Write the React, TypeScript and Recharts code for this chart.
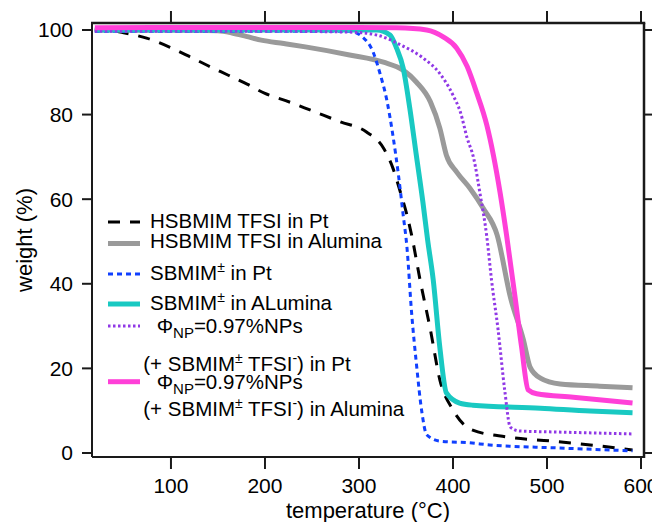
import { LineChart, Line, XAxis, YAxis, Label } from 'recharts';

// TGA curves: temperature (°C) vs weight (%)
const hsPtTemp = [19, 35, 51, 75, 99, 119, 139, 161, 181, 200, 222, 242, 280, 308, 326, 336, 344, 351, 356, 365, 376, 386, 400, 415, 421, 457, 506, 546, 591];
const hsPtWeight = [100, 99.9, 99.3, 98, 95.9, 93.8, 91.6, 89.3, 87.2, 85, 83.3, 81.6, 78.3, 75.9, 72.1, 67.4, 61.7, 56.3, 51.5, 40.9, 29.1, 17.3, 10.2, 6.1, 5.4, 3.8, 2.8, 1.9, 0.7];

const hsAlTemp = [19, 100, 150, 165, 180, 196, 220, 243, 290, 326, 347, 361, 376, 386, 393, 404, 418, 432, 447, 461, 475, 482, 493, 514, 556, 591];
const hsAlWeight = [100, 100, 99.8, 99.3, 98.5, 97.6, 96.8, 96, 94.1, 92.4, 90.5, 87.7, 83, 76.8, 70.4, 66.4, 62.6, 57.9, 51.5, 36.9, 26.7, 20.3, 17.7, 16.3, 15.8, 15.4];

const snPtTemp = [19, 100, 200, 290, 304, 315, 322, 330, 336, 342, 347, 351, 356, 361, 367, 372, 386, 418, 439, 510, 591];
const snPtWeight = [99.7, 99.7, 99.7, 99.7, 98.3, 94.8, 90, 83, 75.2, 65.7, 56.3, 48.7, 33.1, 21.3, 9.5, 4.3, 2.8, 2.4, 1.9, 1.2, 0.5];

const snAlTemp = [19, 100, 200, 300, 319, 333, 340, 347, 354, 361, 368, 373, 379, 386, 393, 407, 421, 493, 546, 591];
const snAlWeight = [100, 100, 100, 100, 100, 98.8, 95.7, 91, 81.6, 70.4, 59.3, 50.4, 40.9, 25, 14.2, 11.8, 11.3, 10.6, 9.9, 9.5];

const npPtTemp = [19, 100, 200, 290, 319, 344, 368, 386, 400, 408, 415, 422, 429, 436, 441, 448, 455, 461, 471, 510, 591];
const npPtWeight = [99.7, 99.7, 99.7, 99.5, 98.8, 96.5, 93.4, 89.7, 84.6, 80.5, 74.5, 69.7, 61, 51.1, 40.9, 29.1, 14.9, 6.1, 5.2, 4.96, 4.5];

const npAlTemp = [19, 100, 200, 300, 340, 372, 390, 404, 415, 425, 436, 443, 450, 457, 466, 473, 480, 489, 528, 591];
const npAlWeight = [100.5, 100.6, 100.6, 100.6, 100.5, 100, 98.3, 95.7, 91.4, 85.3, 77.5, 70.4, 61.7, 51.5, 36.9, 25, 14.9, 14, 13.2, 11.8];

const xTicks = [100, 200, 300, 400, 500, 600];
const yTicks = [0, 20, 40, 60, 80, 100];

const toPoints = (t: number[], w: number[]) => t.map((temp, i) => ({ temp, weight: w[i] }));

const FONT = "'Liberation Sans', Arial, sans-serif";
const AXIS = '#1a1a1a';
const X_DOMAIN: [number, number] = [16, 603.2];
const Y_DOMAIN: [number, number] = [-0.95, 101.65];
const W = 652;
const H = 514;
const MARGIN = { top: 15, right: 16, bottom: 65, left: 84 };

const series = [
  { id: 'hsPt', data: toPoints(hsPtTemp, hsPtWeight), color: '#000000', width: 3, dash: '12 10' },
  { id: 'hsAl', data: toPoints(hsAlTemp, hsAlWeight), color: '#9a9a9a', width: 5, dash: undefined },
  { id: 'snPt', data: toPoints(snPtTemp, snPtWeight), color: '#1040ff', width: 3, dash: '5 4' },
  { id: 'snAl', data: toPoints(snAlTemp, snAlWeight), color: '#19c9c2', width: 5, dash: undefined },
  { id: 'npPt', data: toPoints(npPtTemp, npPtWeight), color: '#9038e6', width: 3, dash: '2.5 2.5' },
  { id: 'npAl', data: toPoints(npAlTemp, npAlWeight), color: '#ff40d8', width: 5, dash: undefined },
];

const PLOT_LEFT = MARGIN.left;
const PLOT_RIGHT = W - MARGIN.right;
const PLOT_TOP = MARGIN.top;
const PLOT_BOTTOM = H - MARGIN.bottom;
const sx = (v: number) => PLOT_LEFT + ((v - X_DOMAIN[0]) / (X_DOMAIN[1] - X_DOMAIN[0])) * (PLOT_RIGHT - PLOT_LEFT);
const sy = (v: number) => PLOT_BOTTOM - ((v - Y_DOMAIN[0]) / (Y_DOMAIN[1] - Y_DOMAIN[0])) * (PLOT_BOTTOM - PLOT_TOP);

const txt = { fontFamily: FONT, fontSize: 20.5, fill: '#000' };

const sample = (y: number, s: typeof series[number]) => (
  <line x1={100} x2={132} y1={y} y2={y} stroke={s.color} strokeWidth={s.width} strokeDasharray={s.dash} />
);

export default function App() {
  const tickStyle = { fontSize: 21, fill: '#000', fontFamily: FONT };
  return (
    <div style={{ position: 'relative', width: W, height: H }}>
      <LineChart width={W} height={H} margin={{ top: MARGIN.top, right: MARGIN.right, bottom: 0, left: 0 }}>
        <XAxis
          xAxisId="bottom"
          dataKey="temp"
          type="number"
          domain={X_DOMAIN}
          ticks={xTicks}
          allowDataOverflow
          height={MARGIN.bottom}
          tickSize={12}
          tickMargin={9}
          tick={tickStyle}
          stroke={AXIS}
          strokeWidth={2}
        >
          <Label
            content={() => (
              <text x={360} y={510} textAnchor="middle" fontFamily={FONT} fontSize={22} fill="#000">
                temperature (°C)
              </text>
            )}
          />
        </XAxis>
        <YAxis
          yAxisId="left"
          type="number"
          domain={Y_DOMAIN}
          ticks={yTicks}
          allowDataOverflow
          width={MARGIN.left}
          tickSize={10}
          tickMargin={9}
          tick={tickStyle}
          stroke={AXIS}
          strokeWidth={2}
        >
          <Label
            content={() => (
              <text
                x={23.5}
                y={232}
                transform="rotate(-90 23.5 232)"
                textAnchor="middle"
                fontFamily={FONT}
                fontSize={22}
                fill="#000"
              >
                weight (%)
              </text>
            )}
          />
        </YAxis>
        {series.map((s) => (
          <Line
            key={s.id}
            xAxisId="bottom"
            yAxisId="left"
            data={s.data}
            dataKey="weight"
            type="monotone"
            stroke={s.color}
            strokeWidth={s.width}
            strokeDasharray={s.dash}
            dot={false}
            activeDot={false}
            isAnimationActive={false}
          />
        ))}
      </LineChart>
      <svg width={W} height={H} style={{ position: 'absolute', left: 0, top: 0, pointerEvents: 'none' }}>
        {/* frame: top and right edges with outward mirrored ticks */}
        <line x1={PLOT_LEFT - 1} x2={PLOT_RIGHT + 1.25} y1={PLOT_TOP} y2={PLOT_TOP} stroke={AXIS} strokeWidth={2.5} />
        <line x1={PLOT_RIGHT} x2={PLOT_RIGHT} y1={PLOT_TOP} y2={PLOT_BOTTOM + 1} stroke={AXIS} strokeWidth={2.5} />
        {xTicks.map((t) => (
          <line key={`t${t}`} x1={sx(t)} x2={sx(t)} y1={PLOT_TOP} y2={PLOT_TOP - 12} stroke={AXIS} strokeWidth={2} />
        ))}
        {yTicks.map((t) => (
          <line key={`r${t}`} x1={PLOT_RIGHT} x2={PLOT_RIGHT + 12} y1={sy(t)} y2={sy(t)} stroke={AXIS} strokeWidth={2} />
        ))}
        {sample(214, series[0])}
        {sample(235.5, series[1])}
        {sample(266, series[2])}
        {sample(296, series[3])}
        {sample(318, series[4])}
        {sample(373.7, series[5])}
        <text x={142} y={219.5} {...txt}>HSBMIM TFSI in Pt</text>
        <text x={142} y={240} {...txt}>HSBMIM TFSI in Alumina</text>
        <text x={142} y={271.5} {...txt}>
          SBMIM<tspan dy={-8} fontSize={14}>±</tspan><tspan dy={8}> in Pt</tspan>
        </text>
        <text x={142} y={301.5} {...txt}>
          SBMIM<tspan dy={-8} fontSize={14}>±</tspan><tspan dy={8}> in ALumina</tspan>
        </text>
        <text x={148.7} y={324.5} {...txt}>
          Φ<tspan dy={5} fontSize={15}>NP</tspan><tspan dy={-5}>=0.97%NPs</tspan>
        </text>
        <text x={135.3} y={363} {...txt}>
          (+ SBMIM<tspan dy={-8} fontSize={14}>±</tspan><tspan dy={8}> TFSI</tspan>
          <tspan dy={-8} fontSize={14}>-</tspan><tspan dy={8}>) in Pt</tspan>
        </text>
        <text x={148.7} y={381} {...txt}>
          Φ<tspan dy={5} fontSize={15}>NP</tspan><tspan dy={-5}>=0.97%NPs</tspan>
        </text>
        <text x={135.3} y={408} {...txt}>
          (+ SBMIM<tspan dy={-8} fontSize={14}>±</tspan><tspan dy={8}> TFSI</tspan>
          <tspan dy={-8} fontSize={14}>-</tspan><tspan dy={8}>) in Alumina</tspan>
        </text>
      </svg>
    </div>
  );
}
